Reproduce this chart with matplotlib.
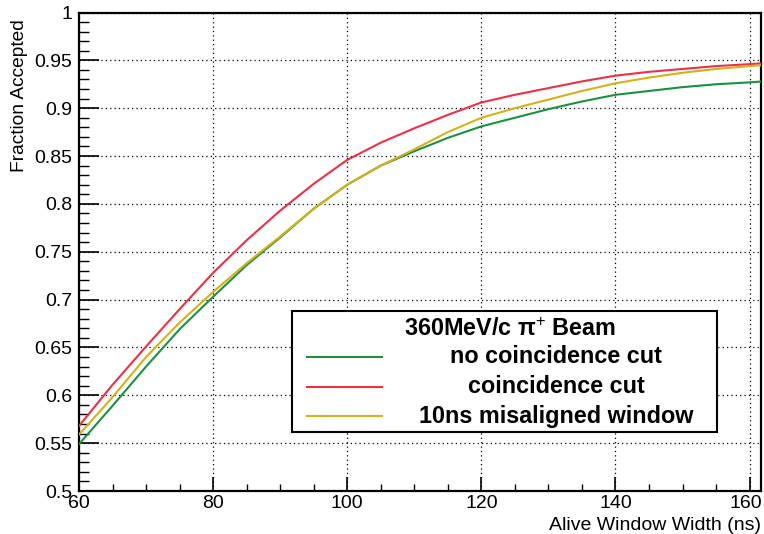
import matplotlib
matplotlib.use("Agg")
import matplotlib.pyplot as plt
from matplotlib.lines import Line2D
from matplotlib.patches import Rectangle
from matplotlib.ticker import MultipleLocator
from matplotlib.transforms import ScaledTranslation

plt.rcParams['font.family'] = ['Liberation Sans', 'DejaVu Sans']
plt.rcParams['mathtext.fontset'] = 'custom'
plt.rcParams['mathtext.rm'] = 'Liberation Sans'
plt.rcParams['mathtext.it'] = 'Liberation Sans:italic'
plt.rcParams['mathtext.bf'] = 'Liberation Sans:bold'

# ---- data ----
window_ns = [60, 65, 70, 75, 80, 85, 90, 95, 100, 105, 110, 115, 120,
             125, 130, 135, 140, 145, 150, 155, 160, 162]
no_coinc = [0.549, 0.589, 0.630, 0.669, 0.703, 0.736, 0.765, 0.795, 0.820,
            0.840, 0.855, 0.869, 0.881, 0.890, 0.899, 0.907, 0.914, 0.918,
            0.922, 0.925, 0.927, 0.928]
coinc = [0.568, 0.611, 0.651, 0.690, 0.728, 0.762, 0.793, 0.821, 0.846,
         0.864, 0.879, 0.893, 0.906, 0.914, 0.921, 0.928, 0.934, 0.938,
         0.941, 0.944, 0.946, 0.947]
misaligned = [0.559, 0.598, 0.640, 0.676, 0.708, 0.738, 0.766, 0.795, 0.820,
              0.840, 0.857, 0.875, 0.890, 0.900, 0.909, 0.918, 0.926, 0.932,
              0.937, 0.941, 0.944, 0.945]

legend_title = '360MeV/c \u03c0$^{+}$ Beam'
labels = ['no coincidence cut', 'coincidence cut', '10ns misaligned window']
colors = ['#1b9140', '#ec3147', '#d2b21c']
x_ticks = [60, 80, 100, 120, 140, 160]
y_ticks = [0.5, 0.55, 0.6, 0.65, 0.7, 0.75, 0.8, 0.85, 0.9, 0.95, 1]
y_tick_labels = ['0.5', '0.55', '0.6', '0.65', '0.7', '0.75', '0.8',
                 '0.85', '0.9', '0.95', '1']

W, H = 764, 534
fig = plt.figure(figsize=(W / 100, H / 100), dpi=100)
ax = fig.add_axes([79 / W, 1 - 491 / H, (761 - 79) / W, (491 - 12.5) / H])

series = [no_coinc, coinc, misaligned]
for ys, c in zip(series, colors):
    ax.plot(window_ns, ys, color=c, lw=1.5, zorder=3)

ax.set_xlim(60, 161.7)
ax.set_ylim(0.5, 1.0)
ax.set_xticks(x_ticks)
ax.set_xticklabels([str(v) for v in x_ticks])
ax.set_yticks(y_ticks)
ax.set_yticklabels(y_tick_labels)
ax.xaxis.set_minor_locator(MultipleLocator(5))
ax.yaxis.set_minor_locator(MultipleLocator(0.01))

ax.grid(True, which='major', color='black', lw=0.9, linestyle=(0, (1, 2.5)))
ax.tick_params(axis='both', which='both', direction='in', top=False, right=False,
               labelsize=14, colors='black')
ax.tick_params(axis='y', which='major', length=14.4, width=1.2, pad=5)
ax.tick_params(axis='y', which='minor', length=7.2, width=1.0)
ax.tick_params(axis='x', which='major', length=10, width=1.2, pad=3)
ax.tick_params(axis='x', which='minor', length=5, width=1.0)
for s in ax.spines.values():
    s.set_linewidth(1.6)

# keep the last x tick label inside the canvas
last = ax.get_xticklabels()[-1]
last.set_transform(last.get_transform() + ScaledTranslation(-4 / 100, 0, fig.dpi_scale_trans))

fig.text(761 / W, 1 - 525 / H, 'Alive Window Width (ns)', ha='right', va='center',
         fontsize=14)
fig.text(20 / W, 1 - 19 / H, 'Fraction Accepted', ha='center', va='top',
         rotation=90, fontsize=13.8)

# ---- legend (drawn manually to mimic ROOT TLegend) ----
lx0, lx1, ly0, ly1 = 291.5, 717, 311, 431.5
fig.patches.append(Rectangle((lx0 / W, 1 - ly1 / H), (lx1 - lx0) / W, (ly1 - ly0) / H,
                             transform=fig.transFigure, facecolor='white',
                             edgecolor='black', lw=1.5, zorder=5))
fig.text(510 / W, 1 - 329 / H, legend_title, ha='center', va='center',
         fontsize=16.8, fontweight='bold', zorder=6)
row_y = [356.7, 386.7, 416]
for lab, c, yy in zip(labels, colors, row_y):
    fig.add_artist(Line2D([307 / W, 382 / W], [1 - yy / H, 1 - yy / H], color=c,
                          lw=1.5, transform=fig.transFigure, zorder=6))
    fig.text(556 / W, 1 - yy / H, lab, ha='center', va='center', fontsize=16.8,
             fontweight='bold', zorder=6)

fig.savefig('out.png', dpi=100)
